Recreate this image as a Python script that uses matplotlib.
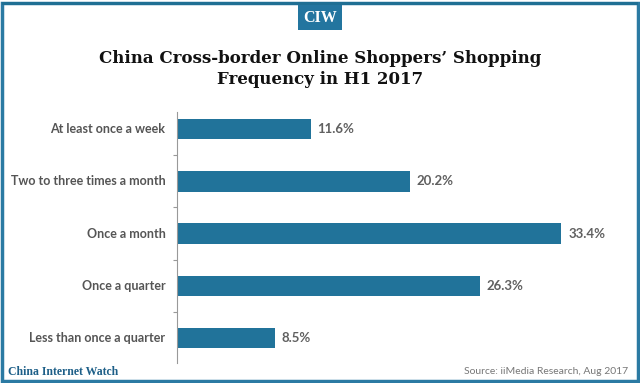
import matplotlib.pyplot as plt
from matplotlib.patches import Rectangle

categories = [
    "At least once a week",
    "Two to three times a month",
    "Once a month",
    "Once a quarter",
    "Less than once a quarter",
]
shares = [11.6, 20.2, 33.4, 26.3, 8.5]

W, H = 640, 383
fig = plt.figure(figsize=(W / 100, H / 100), dpi=100)

# frame around the picture
fig.patches.append(Rectangle((2 / W, 2 / H), 636 / W, 378 / H, transform=fig.transFigure,
                             fill=False, edgecolor="#2b7aa3", linewidth=2.5))
fig.patches.append(Rectangle((2 / W, 1 - 5 / H), 636 / W, 3 / H, transform=fig.transFigure,
                             facecolor="#1f6f94", edgecolor="none"))

# CIW badge
fig.patches.append(Rectangle((298 / W, 1 - 30 / H), 44 / W, 25 / H, transform=fig.transFigure,
                             facecolor="#23759f", edgecolor="none"))
fig.text(320 / W, 1 - 18 / H, "CIW", ha="center", va="center", color="white",
         fontsize=11.5, fontweight="bold", family="Liberation Serif")

fig.text(0.5, 1 - 69 / H, "China Cross-border Online Shoppers’ Shopping\nFrequency in H1 2017",
         ha="center", va="center", fontsize=12, fontweight="bold", family="DejaVu Serif",
         linespacing=1.35, color="#111111")

ax = fig.add_axes([177 / W, 1 - 363 / H, 423 / W, 251 / H])
y = list(range(len(categories)))
ax.barh(y, shares, height=0.39, color="#21739a")
ax.set_xlim(0, 36.75)
ax.set_ylim(4.48, -0.33)

for i, v in enumerate(shares):
    ax.text(v + 0.6, i, f"{v:.1f}%", va="center", ha="left", fontsize=9.5,
            color="#606060", family="Lato", fontweight="bold")

for s in ["top", "right", "bottom"]:
    ax.spines[s].set_visible(False)
ax.spines["left"].set_color("#999999")
ax.spines["left"].set_linewidth(0.8)
ax.set_xticks([])
ax.set_yticks([0.5, 1.5, 2.5, 3.5])
ax.set_yticklabels([])
ax.tick_params(axis="y", length=3, color="#999999", width=0.8)
for i, c in enumerate(categories):
    ax.text(-1.0, i, c, ha="right", va="center", fontsize=9, color="#555555",
            family="Lato", fontweight="bold")

fig.text(8 / W, 1 - 372 / H, "China Internet Watch", ha="left", va="center", fontsize=8.5,
         fontweight="bold", family="Liberation Serif", color="#1d5f88")
fig.text(628 / W, 1 - 372 / H, "Source: iiMedia Research, Aug 2017", ha="right", va="center",
         fontsize=7.5, family="Lato", color="#777777")

fig.savefig("out.png", dpi=100)
